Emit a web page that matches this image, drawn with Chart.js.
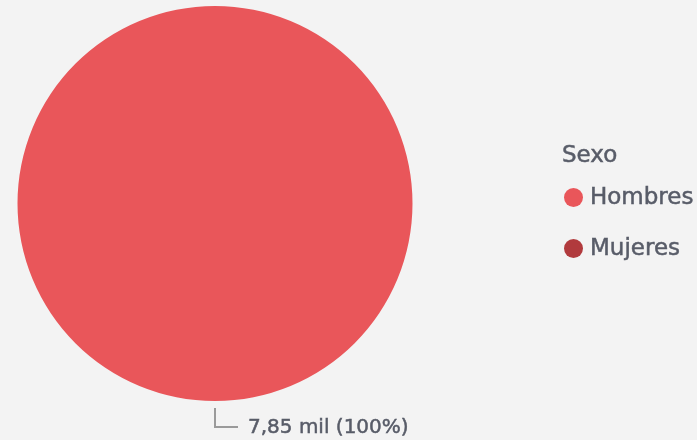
<!DOCTYPE html>
<html>
<head>
<meta charset="utf-8">
<script src="https://cdn.jsdelivr.net/npm/chart.js@4.4.1/dist/chart.umd.min.js"></script>
<style>
  body { margin: 0; background: #f3f3f3; }
  #wrap { position: relative; width: 697px; height: 440px; }
  #legend { position: absolute; left: 562px; top: 143px; font-family: "DejaVu Sans", sans-serif; font-size: 23px; line-height: 23px; color: #585c68; -webkit-text-stroke: 0.5px #585c68; }
  #legend .title { height: 42px; }
  #legend .item { position: relative; height: 51px; white-space: nowrap; }
  #legend .dot { position: absolute; left: 2px; top: 3px; width: 19px; height: 19px; border-radius: 50%; -webkit-text-stroke: 0; }
  #legend .txt { position: absolute; left: 28px; top: 0; }
</style>
</head>
<body>
<div id="wrap">
  <canvas id="myChart" width="697" height="440"></canvas>
  <div id="legend"></div>
</div>
<script>
'use strict';

const legendTitle = "Sexo";
const labels = ["Hombres", "Mujeres"];
const values = [7850, 0];
const colors = ["#e9565a", "#b13a3d"];

// etiqueta tipo Power BI: "7,85 mil (100%)"
function formatLabel(v, total) {
  const mil = (v / 1000).toFixed(2).replace(".", ",") + " mil";
  const pct = Math.round(v / total * 100) + "%";
  return mil + " (" + pct + ")";
}

const leaderLabels = {
  id: "leaderLabels",
  afterDatasetsDraw(chart) {
    const ctx = chart.ctx;
    const meta = chart.getDatasetMeta(0);
    const data = chart.data.datasets[0].data;
    const total = data.reduce((a, b) => a + b, 0);

    meta.data.forEach((arc, i) => {
      if (!data[i]) return;
      const p = arc.getProps(["x", "y", "startAngle", "endAngle", "outerRadius"], true);
      const mid = (p.startAngle + p.endAngle) / 2;
      const x0 = p.x + Math.cos(mid) * (p.outerRadius + 7);
      const y0 = p.y + Math.sin(mid) * (p.outerRadius + 7);
      const y1 = y0 + 19;
      const x1 = x0 + 23;

      ctx.save();
      ctx.strokeStyle = "#9a9a9a";
      ctx.lineWidth = 2;
      ctx.beginPath();
      ctx.moveTo(x0, y0);
      ctx.lineTo(x0, y1);
      ctx.lineTo(x1, y1);
      ctx.stroke();

      const txt = formatLabel(data[i], total);
      ctx.fillStyle = "#585c68";
      ctx.strokeStyle = "#585c68";
      ctx.lineWidth = 0.5;
      ctx.font = "20px 'DejaVu Sans', sans-serif";
      ctx.textBaseline = "middle";
      ctx.textAlign = "left";
      ctx.fillText(txt, x1 + 10, y1 + 1);
      ctx.strokeText(txt, x1 + 10, y1 + 1);
      ctx.restore();
    });
  }
};

function renderLegend() {
  const legendElm = document.getElementById("legend");
  legendElm.innerHTML = "";

  const titleElm = document.createElement("div");
  titleElm.className = "title";
  titleElm.textContent = legendTitle;
  legendElm.appendChild(titleElm);

  for (let i = 0; i < labels.length; i++) {
    const itemElm = document.createElement("div");
    itemElm.className = "item";
    const dot = document.createElement("span");
    dot.className = "dot";
    dot.style.background = colors[i];
    const txt = document.createElement("span");
    txt.className = "txt";
    txt.textContent = labels[i];
    itemElm.appendChild(dot);
    itemElm.appendChild(txt);
    legendElm.appendChild(itemElm);
  }
}

const ctx = document.getElementById("myChart");

const myChart = new Chart(ctx, {
  type: "pie",
  data: {
    labels: labels,
    datasets: [
      {
        data: values,
        backgroundColor: colors,
        borderWidth: 0,
      },
    ],
  },
  options: {
    responsive: false,
    animation: false,
    devicePixelRatio: 1,
    layout: {
      padding: { left: 17, right: 284, top: 6, bottom: 39 },
    },
    plugins: {
      legend: { display: false },
      tooltip: { enabled: false },
    },
  },
  plugins: [leaderLabels],
});

renderLegend();
</script>
</body>
</html>
